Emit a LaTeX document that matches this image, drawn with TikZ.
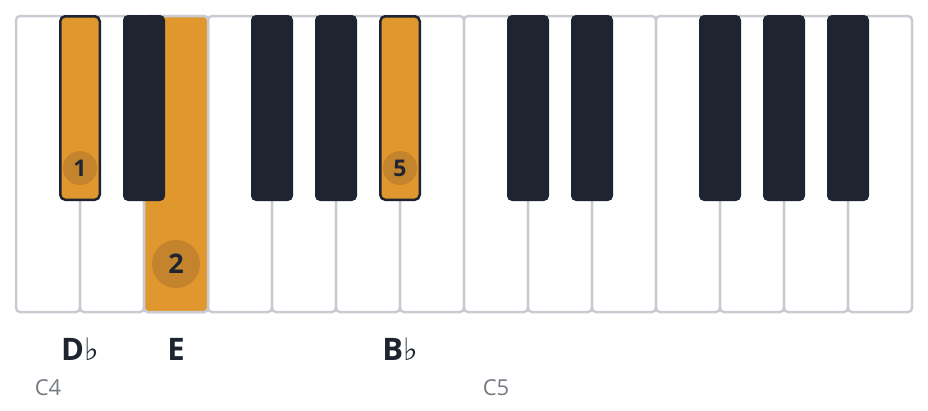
\documentclass[tikz,border=0pt]{standalone}
\usepackage{fontspec}
\setmainfont{Open Sans}
\newfontfamily\symfont{DejaVu Sans}
\definecolor{keyorange}{HTML}{E0972E}
\definecolor{fingerfill}{HTML}{C4842E}
\definecolor{keydark}{HTML}{1F2530}
\definecolor{keyborder}{HTML}{C9CCD3}
\definecolor{octgray}{HTML}{757B85}
\begin{document}
\begin{tikzpicture}[x=1pt,y=-1pt,
  whitekey/.style={draw=keyborder, line width=2.5pt, rounded corners=4pt, fill=white,
    minimum width=64pt, minimum height=296pt, inner sep=0pt, outer sep=0pt, anchor=north west},
  blackkey/.style={fill=keydark, rounded corners=5pt,
    minimum width=42pt, minimum height=186pt, inner sep=0pt, outer sep=0pt, anchor=north},
  hiblack/.style={fill=keyorange, draw=keydark, line width=2.5pt, rounded corners=5pt,
    minimum width=39.5pt, minimum height=183.5pt, inner sep=0pt, outer sep=0pt, anchor=north},
  finger/.style={circle, fill=fingerfill, inner sep=0pt, text=keydark, font=\bfseries},
  notename/.style={anchor=base, inner sep=0pt, text=keydark, font=\bfseries\fontsize{31}{33}\selectfont},
  octave/.style={anchor=base, inner sep=0pt, text=octgray, font=\fontsize{22}{26}\selectfont}
]
\useasboundingbox (0,0) rectangle (928,410);
% white keys
\foreach \i in {0,...,13}{
  \node[whitekey] (w\i) at ({16+64*\i},16) {};
}
\node[whitekey, fill=keyorange] (wE) at (144,16) {};
% black keys
\foreach \k in {2,4,5,8,9,11,12,13}{
  \node[blackkey] (b\k) at ({16+64*\k},15) {};
}
\node[hiblack] (bDb) at (80,16.25) {};
\node[hiblack] (bBb) at (400,16.25) {};
% fingering circles
\node[finger, minimum size=34pt, font=\bfseries\fontsize{23}{26}\selectfont] (f1) at (80,168) {1};
\node[finger, minimum size=48pt, font=\bfseries\fontsize{27}{30}\selectfont] (f2) at (176,264) {2};
\node[finger, minimum size=34pt, font=\bfseries\fontsize{23}{26}\selectfont] (f5) at (400,168) {5};
% note names
\node[notename] (nDb) at (80,360) {D{\symfont\mdseries ♭}};
\node[notename] (nE) at (176,360) {E};
\node[notename] (nBb) at (400,360) {B{\symfont\mdseries ♭}};
% octave labels
\node[octave] (oC4) at (48,395) {C4};
\node[octave] (oC5) at (496,395) {C5};
\end{tikzpicture}
\end{document}
